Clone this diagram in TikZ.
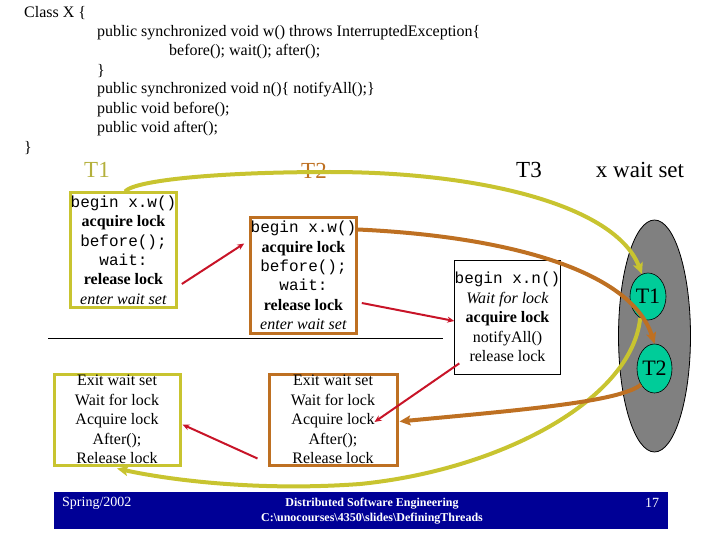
\documentclass[tikz,border=0pt]{standalone}
\usepackage{fontspec}
\setmainfont{Liberation Serif}
\setmonofont{Liberation Mono}
\usetikzlibrary{shapes.geometric,arrows.meta}
\definecolor{ycol}{RGB}{200,196,48}
\definecolor{ylab}{RGB}{180,176,60}
\definecolor{bcol}{RGB}{190,112,34}
\definecolor{rcol}{RGB}{200,20,40}
\definecolor{gcol}{RGB}{0,204,153}
\definecolor{navy}{RGB}{0,0,150}
\tikzset{
  code/.style={anchor=west,inner sep=0pt,font=\fontsize{16}{19}\selectfont},
  head/.style={inner sep=0pt,font=\fontsize{23}{26}\selectfont},
  stepbox/.style={rectangle,inner sep=0pt,align=center,font=\fontsize{16}{19.4}\selectfont},
  ybox/.style={stepbox,draw=ycol,line width=3pt,fill=white},
  bbox/.style={stepbox,draw=bcol,line width=3pt,fill=white},
  kbox/.style={stepbox,draw=black,line width=0.8pt,fill=white},
  yarrow/.style={draw=ycol,line width=4pt,-{Stealth[length=11pt,width=10pt,inset=2pt]}},
  barrow/.style={draw=bcol,line width=4pt,-{Stealth[length=11pt,width=10pt,inset=2pt]}},
  rarrow/.style={draw=rcol,line width=2pt,-{Stealth[length=7pt,width=6pt]}},
  small/.style={ellipse,draw=black,line width=0.6pt,fill=gcol,inner sep=0pt,font=\fontsize{22}{26}\selectfont},
}
\begin{document}
\begin{tikzpicture}[x=1pt,y=-1pt]
\useasboundingbox (0,0) rectangle (720,540);
% class code
\node[code] (c1) at (24,13) {Class X \{};
\node[code] (c2) at (97,33) {public synchronized void w() throws InterruptedException\{};
\node[code] (c3) at (169,52) {before(); wait(); after();};
\node[code] (c4) at (97,71) {\}};
\node[code] (c5) at (97,90) {public synchronized void n()\{ notifyAll();\}};
\node[code] (c6) at (97,110) {public void before();};
\node[code] (c7) at (97,129) {public void after();};
\node[code] (c8) at (24,148) {\}};
% headings
\node[head,text=ylab] (h1) at (97,170) {T1};
\node[head,text=bcol] (h2) at (314,171) {T2};
\node[head] (h3) at (529,170) {T3};
\node[head] (h4) at (640,170) {x wait set};
% wait set
\node[ellipse,draw=black,line width=0.8pt,fill=gray,minimum width=72pt,minimum height=232pt,inner sep=0pt] (ws) at (654.5,336) {};
\node[small,minimum width=36pt,minimum height=47pt] (e1) at (648,296.5) {T1};
\node[small,minimum width=35pt,minimum height=49pt] (e2) at (654.5,368.5) {T2};
% divider
\coordinate (l1) at (48,338);
\coordinate (l2) at (443,338);
\draw[line width=0.8pt] (l1) -- (l2);
% boxes
\node[ybox,minimum width=103pt,minimum height=114pt] (t1a) at (123.5,250)
  {\texttt{begin x.w()}\\\textbf{acquire lock}\\\texttt{before();}\\\texttt{wait:}\\\textbf{release lock}\\\textit{enter wait set}};
\node[bbox,minimum width=103pt,minimum height=115pt] (t2a) at (303.5,275.5)
  {\texttt{begin x.w()}\\\textbf{acquire lock}\\\texttt{before();}\\\texttt{wait:}\\\textbf{release lock}\\\textit{enter wait set}};
\node[kbox,minimum width=101pt,minimum height=114pt] (t3) at (507.5,317)
  {\texttt{begin x.n()}\\\textit{Wait for lock}\\\textbf{acquire lock}\\notifyAll()\\release lock};
\node[ybox,minimum width=126pt,minimum height=91pt] (t1b) at (117,419.5)
  {Exit wait set\\Wait for lock\\Acquire lock\\After();\\Release lock};
\node[bbox,minimum width=128pt,minimum height=91pt] (t2b) at (333,419.5)
  {Exit wait set\\Wait for lock\\Acquire lock\\After();\\Release lock};
% footer
\node[fill=navy,minimum width=614pt,minimum height=37pt,inner sep=0pt] (ft) at (361,510) {};
\node[inner sep=0pt,text=white,font=\fontsize{14}{15}\selectfont,anchor=west] (f1) at (62,503) {Spring/2002};
\node[inner sep=0pt,text=white,font=\bfseries\fontsize{12}{15}\selectfont,align=center] (f2) at (372,511.5)
  {Distributed Software Engineering\\C:\textbackslash unocourses\textbackslash 4350\textbackslash slides\textbackslash DefiningThreads};
\node[inner sep=0pt,text=white,font=\fontsize{14}{15}\selectfont] (f3) at (652,503) {17};
% yellow arrows
\draw[yarrow] ([xshift=1.5pt]t1a.north) .. controls (135,180) and (220,172) .. (330,172)
   .. controls (480,172) and (615,205) .. (e1.105);
\draw[yarrow] (e1.250) .. controls (632,400) and (500,470) .. (360,484)
   .. controls (250,492) and (160,478) .. ([yshift=-2pt]t1b.south);
% brown arrows
\draw[barrow] ([yshift=-13pt]t2a.north east) .. controls (500,236) and (630,268) .. (e2.north);
\draw[barrow] (e2.230) .. controls (620,402) and (520,410) .. ([xshift=1pt,yshift=-2pt]t2b.east);
% red arrows
\draw[rarrow] ([xshift=4pt,yshift=-34pt]t1a.east) -- ([xshift=-5pt,yshift=32pt]t2a.west);
\draw[rarrow] ([xshift=4pt,yshift=-27.5pt]t2a.east) -- ([yshift=-4pt]t3.west);
\draw[rarrow] ([xshift=5pt,yshift=11pt]t3.south west) -- ([xshift=-24pt,yshift=-2.5pt]t2b.east);
\draw[rarrow] ([xshift=-10pt,yshift=8pt]t2b.south west) -- ([xshift=1pt,yshift=-5pt]t1b.east);
\end{tikzpicture}
\end{document}
